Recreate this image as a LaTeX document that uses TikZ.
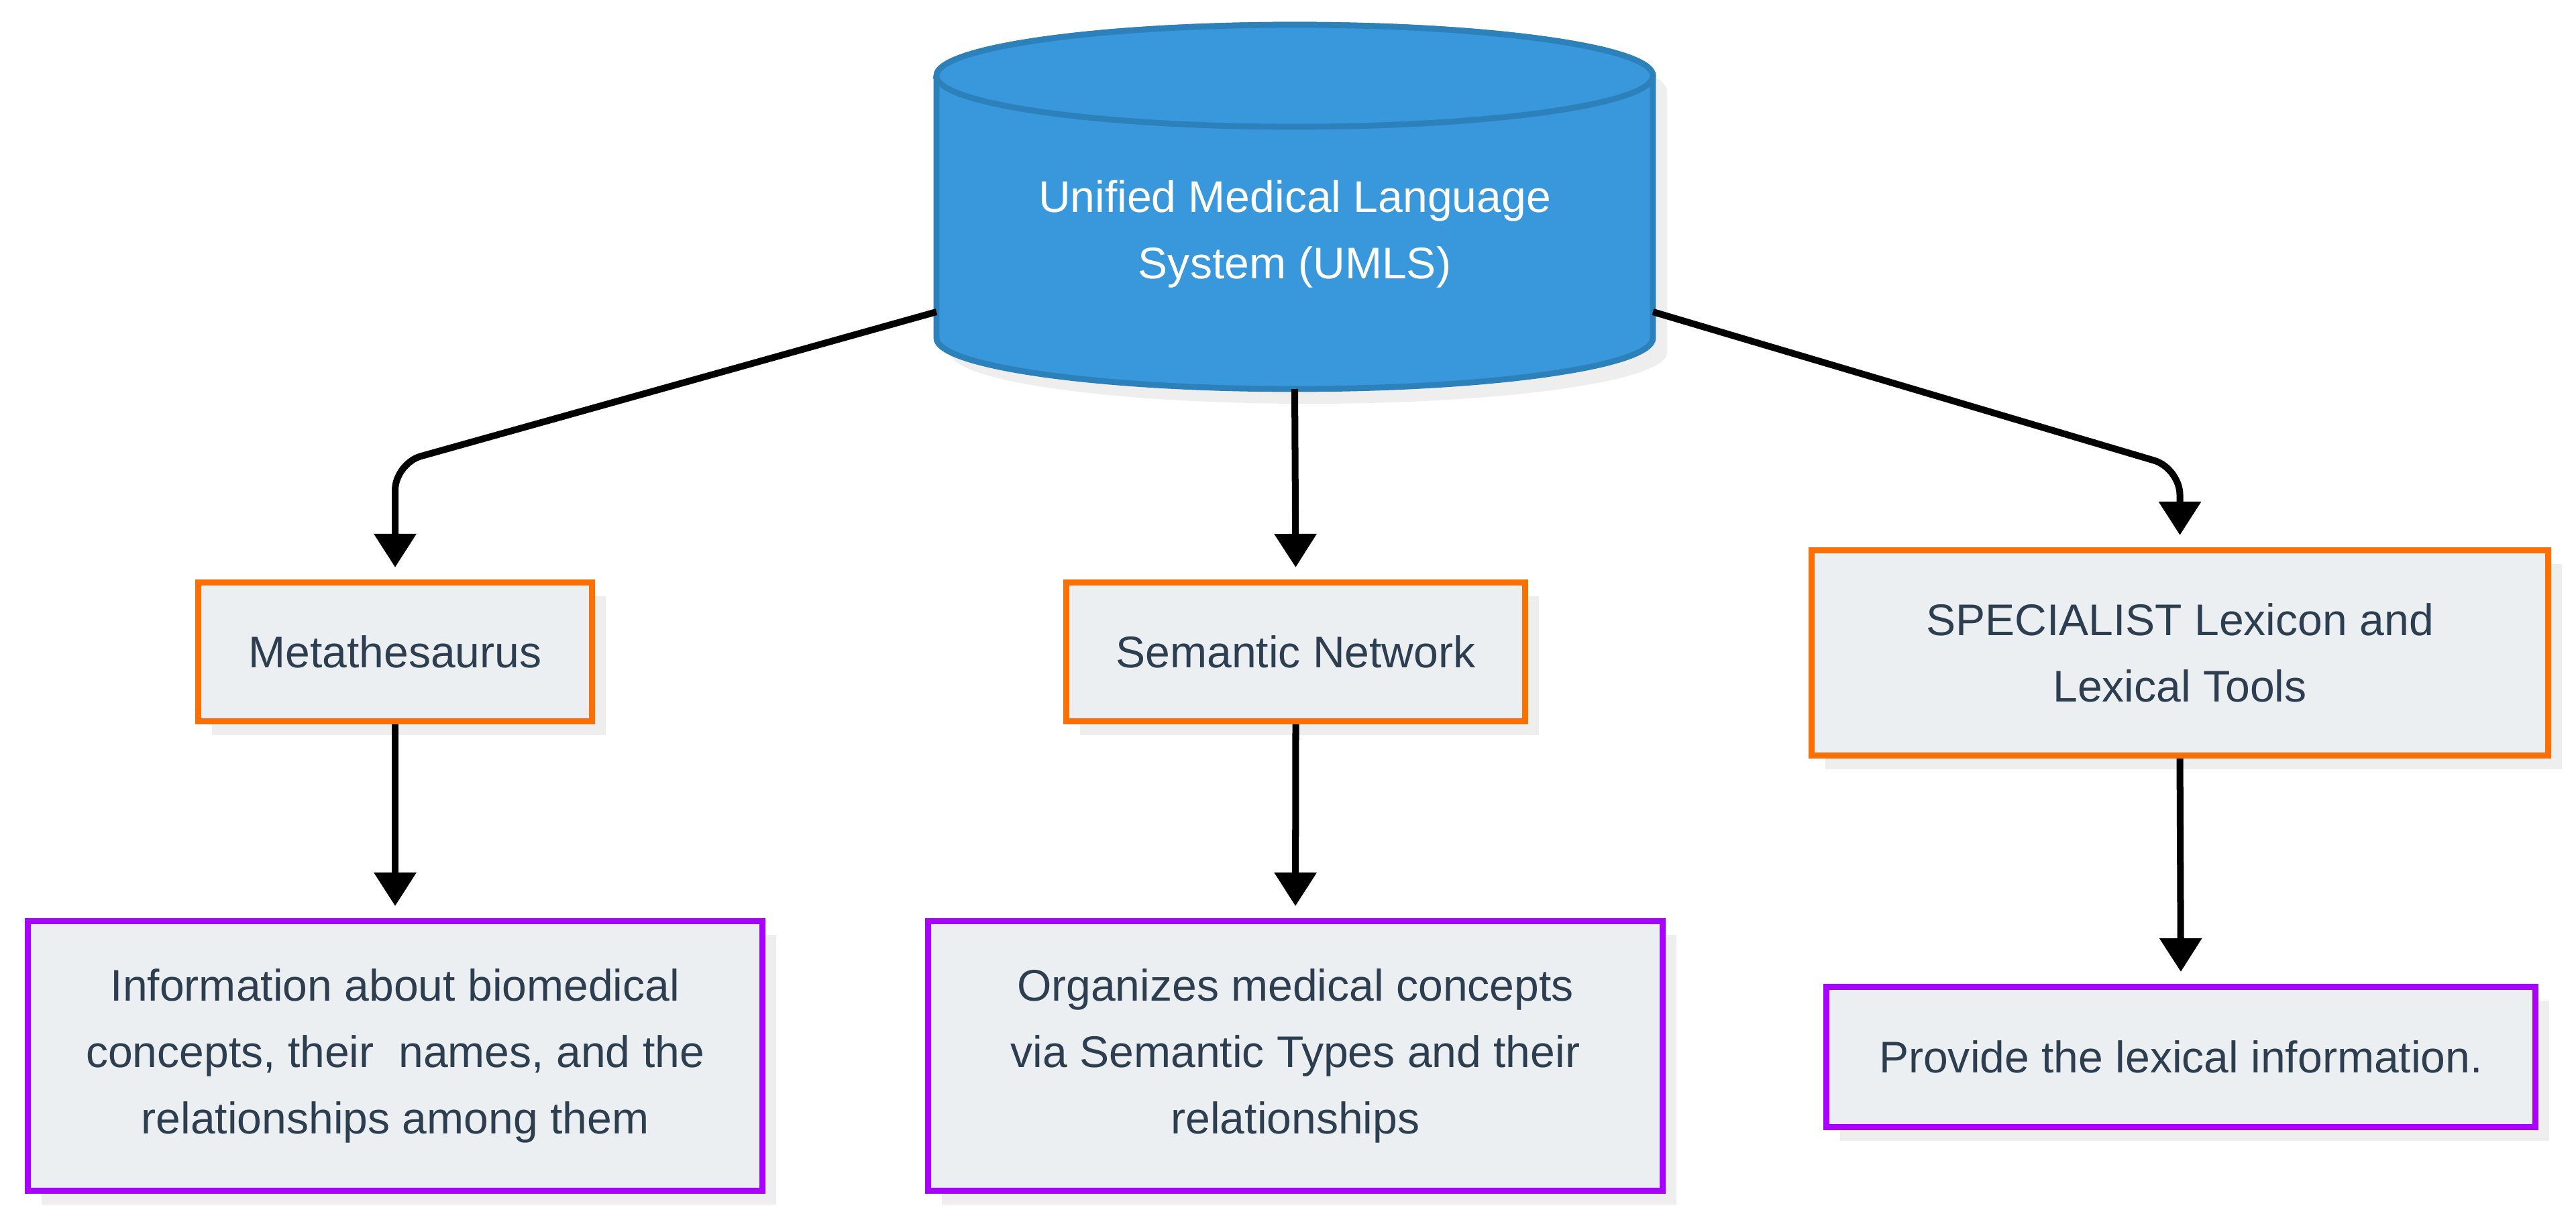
\documentclass[tikz,border=0pt]{standalone}
\usepackage{fontspec}
\setmainfont{Liberation Sans}
\usetikzlibrary{arrows.meta,shadows,calc}
\definecolor{txt}{HTML}{2C3E50}
\definecolor{boxfill}{HTML}{ECEFF1}
\definecolor{orng}{HTML}{FF6F00}
\definecolor{purp}{HTML}{AA00FF}
\definecolor{cylfill}{HTML}{3898DB}
\definecolor{cylline}{HTML}{2C81BA}
\definecolor{shd}{HTML}{EEEEEE}
\begin{document}
\begin{tikzpicture}[
  font=\fontsize{18.8pt}{28.2pt}\selectfont,
  box/.style={draw, line width=2.6pt, fill=boxfill, text=txt, align=center, inner sep=0pt,
    drop shadow={shadow xshift=0.2cm, shadow yshift=-0.2cm, fill=shd, opacity=1}},
  topbox/.style={box, draw=orng},
  leafbox/.style={box, draw=purp},
  conn/.style={line width=2.85pt, -{Triangle[length=0.5cm, width=0.61cm]}, shorten >=0.18cm},
  cylshape/.style={line width=2.5pt, draw=cylline, fill=cylfill},
  cyltext/.style={text=white, align=center, inner sep=0pt},
]
\useasboundingbox (0,0) rectangle (38.4,-18.3);

% cylinder shadow
\fill[shd] (14.17,-1.35) -- (14.17,-5.26) arc[start angle=180, end angle=360, x radius=5.34cm, y radius=0.76cm]
  -- (24.85,-1.35) arc[start angle=0, end angle=180, x radius=5.34cm, y radius=0.76cm] -- cycle;
% cylinder body
\draw[cylshape] (13.96,-1.13) -- (13.96,-5.04) arc[start angle=180, end angle=360, x radius=5.34cm, y radius=0.76cm]
  -- (24.64,-1.13) arc[start angle=0, end angle=180, x radius=5.34cm, y radius=0.76cm] -- cycle;
\draw[cylshape] (19.30,-1.13) ellipse[x radius=5.34cm, y radius=0.76cm];
\node[minimum width=10.68cm, minimum height=5.43cm, inner sep=0pt, outer sep=0pt] (umls) at (19.30,-3.085) {};
\node[cyltext] (umlstext) at (19.30,-3.485) {Unified Medical Language\\System (UMLS)};

% boxes
\node[topbox, minimum width=5.87cm, minimum height=2.07cm] (meta) at (5.89,-9.72) {Metathesaurus};
\node[topbox, minimum width=6.84cm, minimum height=2.07cm] (sem) at (19.315,-9.72) {Semantic Network};
\node[topbox, minimum width=10.98cm, minimum height=3.06cm] (spec) at (32.495,-9.735) {SPECIALIST Lexicon and\\Lexical Tools};

\node[leafbox, minimum width=10.95cm, minimum height=4.02cm] (info) at (5.89,-15.745)
  {Information about biomedical\\concepts, their\ \ names, and the\\relationships among them};
\node[leafbox, minimum width=10.95cm, minimum height=4.02cm] (org) at (19.31,-15.745)
  {Organizes medical concepts\\via Semantic Types and their\\relationships};
\node[leafbox, minimum width=10.57cm, minimum height=2.09cm] (prov) at (32.51,-15.76)
  {Provide the lexical information.};

% connectors
\coordinate (lc) at (0,-6.91);
\coordinate (rc) at (0,-6.98);
\draw[conn, rounded corners=0.4cm] ([yshift=-1.565cm]umls.west) -- (meta.north |- lc) -- (meta.north);
\draw[conn] (umls.south) -- (sem.north);
\draw[conn, rounded corners=0.4cm] ([yshift=-1.565cm]umls.east) -- (spec.north |- rc) -- (spec.north);
\draw[conn] (meta.south) -- (info.north);
\draw[conn] (sem.south) -- (org.north);
\draw[conn] (spec.south) -- (prov.north);
\end{tikzpicture}
\end{document}
